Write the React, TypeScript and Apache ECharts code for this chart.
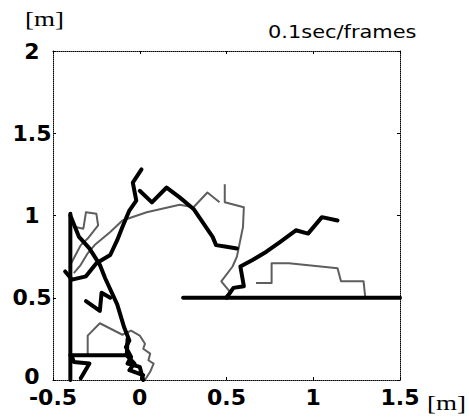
import React, { useEffect, useRef } from "react";
import * as echarts from "echarts";

// axis ranges / ticks
const xRange = [-0.5, 1.5];
const yRange = [0, 2];
const tickStep = 0.5;

// thick (black) trajectories
const thickHorizontal = [[0.25, 0.5], [1.5, 0.5]];
const thickRightArc = [[0.5, 0.5], [0.54, 0.56], [0.6, 0.57], [0.58, 0.69], [0.65, 0.73], [0.73, 0.78], [0.81, 0.84], [0.9, 0.91], [0.97, 0.89], [1.05, 0.99], [1.14, 0.97]];
const thickDescending = [[0.01, 1.28], [-0.04, 1.2], [-0.02, 1.09], [-0.06, 1.03], [-0.1, 0.93], [-0.13, 0.85], [-0.17, 0.76], [-0.25, 0.71], [-0.31, 0.63], [-0.39, 0.61], [-0.43, 0.66]];
const thickTopArc = [[0.0, 1.15], [0.07, 1.08], [0.155, 1.17], [0.23, 1.11], [0.31, 1.04], [0.42, 0.87], [0.44, 0.82], [0.5, 0.81], [0.56, 0.8]];
const thickVertical = [[-0.4, 1.01], [-0.4, 0.0]];
const thickDiagonal = [[-0.4, 1.0], [-0.35, 0.87], [-0.29, 0.8], [-0.23, 0.7], [-0.2, 0.62], [-0.13, 0.46], [-0.09, 0.32], [-0.06, 0.24], [-0.08, 0.2], [-0.05, 0.14], [-0.07, 0.1], [0.0, 0.08], [0.02, 0.0]];
const thickBottomBar = [[-0.4, 0.15], [-0.07, 0.15]];
const thickBottomZ = [[-0.39, 0.14], [-0.38, 0.11], [-0.29, 0.1], [-0.34, 0.01]];
const thickZigzag = [[-0.31, 0.48], [-0.23, 0.42], [-0.22, 0.53], [-0.17, 0.5]];
const thickBottomRight = [[-0.07, 0.25], [-0.075, 0.15], [-0.03, 0.1], [-0.06, 0.06], [0.02, 0.03]];

// thin (grey) trajectories
const greySteps = [[0.67, 0.59], [0.76, 0.59], [0.76, 0.71], [0.86, 0.71], [1.14, 0.68], [1.16, 0.6], [1.29, 0.6], [1.3, 0.5]];
const greyMid = [[0.49, 1.19], [0.49, 1.08], [0.6, 1.05], [0.595, 0.93], [0.56, 0.75], [0.535, 0.69], [0.47, 0.6], [0.52, 0.535], [0.49, 0.5]];
const greyLong = [[0.46, 1.08], [0.39, 1.14], [0.31, 1.05], [0.23, 1.065], [0.04, 1.02], [-0.1, 0.97], [-0.17, 0.9], [-0.26, 0.82], [-0.3, 0.77], [-0.34, 0.7], [-0.38, 0.65]];
const greyLoop = [[-0.37, 0.93], [-0.325, 0.92], [-0.31, 1.02], [-0.25, 1.01], [-0.24, 0.94], [-0.3, 0.86], [-0.34, 0.82], [-0.37, 0.76], [-0.4, 0.7]];
const greyPentagon = [[-0.3, 0.14], [-0.3, 0.27], [-0.23, 0.345], [-0.1, 0.275], [-0.05, 0.3], [0.0, 0.27], [0.03, 0.22], [0.02, 0.19], [0.06, 0.16], [0.05, 0.12], [0.08, 0.1], [0.06, 0.05], [0.03, 0.0]];

const thickSeries = [thickHorizontal, thickRightArc, thickDescending, thickTopArc, thickVertical, thickDiagonal, thickBottomBar, thickBottomZ, thickZigzag, thickBottomRight];
const greySeries = [greySteps, greyMid, greyLong, greyLoop, greyPentagon];

export default function App() {
  const ref = useRef<HTMLDivElement>(null);
  useEffect(() => {
    if (!ref.current) return;
    const chart = echarts.init(ref.current, null, { renderer: "svg" });
    const labelFont = { fontFamily: "DejaVu Sans", fontSize: 22, fontWeight: "bold" as const, color: "#000", lineHeight: 14 };
    const axisLine = { show: true, onZero: false, lineStyle: { color: "#000", width: 1, type: "dotted" as const } };
    const tick = { show: true, inside: true, length: 3, lineStyle: { color: "#000", width: 1 } };
    const series: any[] = [];
    greySeries.forEach((d) =>
      series.push({
        type: "line",
        data: d,
        symbol: "none",
        lineStyle: { color: "#5e5e5e", width: 2, join: "round" },
        z: 2,
      })
    );
    thickSeries.forEach((d) =>
      series.push({
        type: "line",
        data: d,
        symbol: "none",
        lineStyle: { color: "#000", width: 4, join: "round", cap: "round" },
        z: 3,
      })
    );
    chart.setOption({
      animation: false,
      grid: { left: 53, top: 51, width: 347, height: 329, containLabel: false },
      xAxis: [
        {
          type: "value", min: xRange[0], max: xRange[1], interval: tickStep, position: "bottom",
          axisLine, axisTick: tick, splitLine: { show: false },
          axisLabel: { ...labelFont, margin: 10, showMinLabel: true, showMaxLabel: true },
        },
        {
          type: "value", min: xRange[0], max: xRange[1], interval: tickStep, position: "top",
          axisLine, axisTick: tick, splitLine: { show: false }, axisLabel: { show: false },
        },
      ],
      yAxis: [
        {
          type: "value", min: yRange[0], max: yRange[1], interval: tickStep, position: "left",
          axisLine, axisTick: tick, splitLine: { show: false },
          axisLabel: {
            ...labelFont, margin: 21, align: "center", showMinLabel: true, showMaxLabel: true,
            formatter: (v: number) => (v === 0 ? "{z|0}" : String(v)),
            rich: { z: { ...labelFont, padding: [0, 0, 7, 0] } },
          },
        },
        {
          type: "value", min: yRange[0], max: yRange[1], interval: tickStep, position: "right",
          axisLine, axisTick: tick, splitLine: { show: false }, axisLabel: { show: false },
        },
      ],
      graphic: [
        {
          type: "text", left: 25, top: 9, scaleX: 1.35,
          style: { text: "[m]", font: "20px 'Liberation Serif'", fill: "#000" },
        },
        {
          type: "text", left: 427, top: 393, scaleX: 1.35,
          style: { text: "[m]", font: "20px 'Liberation Serif'", fill: "#000" },
        },
        {
          type: "text", left: 268, top: 23, scaleX: 1.23,
          style: { text: "0.1sec/frames", font: "17px 'DejaVu Sans'", fill: "#000" },
        },
      ],
      series,
    });
    return () => chart.dispose();
  }, []);
  return <div ref={ref} style={{ position: "fixed", left: 0, top: 0, width: 469, height: 418, background: "#fff" }} />;
}
